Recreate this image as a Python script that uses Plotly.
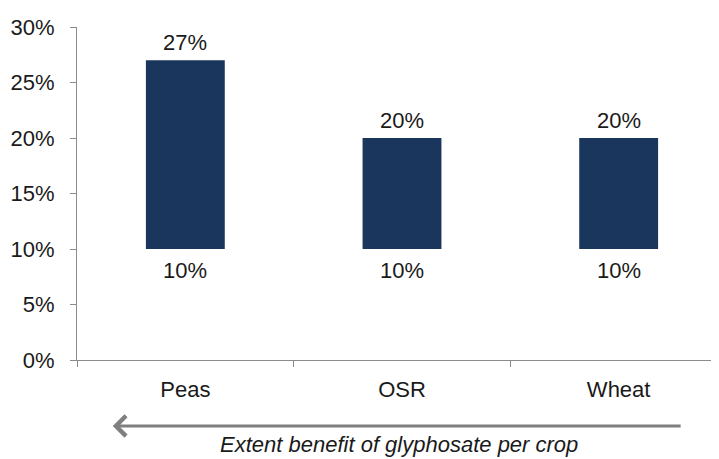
import plotly.graph_objects as go

crops = ["Peas", "OSR", "Wheat"]
low_pct = [10, 10, 10]
high_pct = [27, 20, 20]
y_ticks = [0, 5, 10, 15, 20, 25, 30]

BAR = "#1b365d"
AXIS = "#8c8c8c"
FONT = "Liberation Sans"
TXT = "#1a1a1a"

fig = go.Figure()
fig.add_trace(go.Bar(
    x=crops,
    y=[h - l for h, l in zip(high_pct, low_pct)],
    base=low_pct,
    width=0.364,
    marker=dict(color=BAR, line=dict(width=0)),
    hoverinfo="skip",
))

# value labels above and below each bar
for c, lo, hi in zip(crops, low_pct, high_pct):
    fig.add_annotation(x=c, y=hi, text=f"{hi}%", showarrow=False, yshift=18,
                       font=dict(size=22, color=TXT, family=FONT))
    fig.add_annotation(x=c, y=lo, text=f"{lo}%", showarrow=False, yshift=-21,
                       font=dict(size=22, color=TXT, family=FONT))

fig.add_annotation(
    x=0.055, y=-0.198, ax=0.931, ay=-0.198,
    xref="x domain", yref="y domain", axref="x domain", ayref="y domain",
    text="", showarrow=True, arrowhead=4, arrowsize=1.3,
    arrowwidth=3, arrowcolor="#7f7f7f",
)
fig.add_annotation(
    x=0.496, y=-0.255, xref="x domain", yref="y domain", yanchor="middle",
    text="<i>Extent benefit of glyphosate per crop</i>",
    showarrow=False, font=dict(size=22, color=TXT, family=FONT),
)

# page body has an 8px margin, so the margins are shifted by that
fig.update_layout(
    width=719, height=459,
    margin=dict(l=69, r=0, t=19, b=107),
    plot_bgcolor="white", paper_bgcolor="white",
    showlegend=False,
    font=dict(family=FONT, size=22, color=TXT),
    xaxis=dict(
        range=[-0.5, 2.5], showline=True, linecolor=AXIS, linewidth=1,
        ticks="outside", tickson="boundaries", ticklen=6, tickcolor=AXIS,
        ticklabelstandoff=10, showgrid=False, zeroline=False, automargin=False,
    ),
    yaxis=dict(
        range=[0, 30], tickvals=y_ticks, ticktext=[f"{v}%" for v in y_ticks],
        showline=True, linecolor=AXIS, linewidth=1,
        ticks="outside", ticklen=6, tickcolor=AXIS, ticklabelstandoff=11,
        showgrid=False, zeroline=False, automargin=False,
    ),
)

fig.write_html("out.html")
